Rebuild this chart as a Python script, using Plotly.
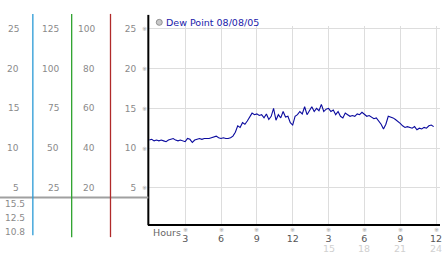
import plotly.graph_objects as go

W, H = 442, 253

# ---- data ----
hours = [round(i * 0.2, 1) for i in range(120)]
dew_point = [
    11.0, 11.1, 10.9, 11.0, 10.9, 11.0, 10.9, 10.8, 11.0, 11.1,
    11.2, 11.0, 10.9, 11.0, 10.9, 10.8, 11.2, 11.1, 10.7, 11.0,
    11.1, 11.2, 11.1, 11.2, 11.2, 11.2, 11.3, 11.4, 11.5, 11.3,
    11.2, 11.3, 11.2, 11.2, 11.3, 11.5, 12.0, 12.8, 12.6, 13.2,
    13.0, 13.4, 14.0, 14.4, 14.2, 14.3, 14.1, 14.2, 13.8, 14.3,
    13.6, 14.0, 15.0, 13.5, 14.2, 13.8, 14.6, 13.9, 14.0, 13.2,
    12.9, 14.0, 14.2, 14.6, 14.3, 15.2, 14.2, 14.8, 15.2, 14.6,
    15.0, 14.7, 15.5, 14.6, 14.9, 15.0, 14.6, 14.8, 14.2, 14.6,
    14.0, 13.8, 14.4, 14.2, 14.0, 14.1, 14.0, 14.3, 14.2, 14.5,
    14.3, 14.0, 14.1, 13.9, 13.7, 13.8, 13.4, 13.0, 12.4, 13.0,
    14.0, 13.9, 13.8, 13.6, 13.4, 13.1, 12.8, 12.6, 12.7, 12.6,
    12.5, 12.7, 12.3, 12.5, 12.4, 12.6, 12.5, 12.8, 12.9, 12.7,
]
x_ticks = [3, 6, 9, 12, 15, 18, 21, 24]
x_tick_text = ["3", "6", "9", "12", "3", "6", "9", "12"]
x_tick_text_24h = ["15", "18", "21", "24"]
y_ticks = [5, 10, 15, 20, 25]
scale1_labels = ["5", "10", "15", "20", "25"]
scale2_labels = ["25", "50", "75", "100", "125"]
scale3_labels = ["20", "40", "60", "80", "100"]
summary_labels = ["15.5", "12.5", "10.8"]
legend_label = "Dew Point 08/08/05"

# ---- geometry (pixels) ----
PX_L, PX_R = 149, 442
PY_T, PY_B = 24, 224
def px(x): return x / W
def py(y): return 1 - y / H

FONT = "DejaVu Sans"
LBL = "#8a8a8a"

fig = go.Figure()
fig.add_trace(go.Scatter(
    x=hours, y=dew_point, mode="lines",
    line=dict(color="#0a0a9e", width=1.1),
    showlegend=False, hoverinfo="skip",
))

fig.update_layout(
    width=W, height=H,
    margin=dict(l=0, r=0, t=0, b=0),
    paper_bgcolor="white", plot_bgcolor="white",
    showlegend=False,
    xaxis=dict(
        domain=[px(PX_L), px(PX_R)], range=[-0.083, 24.33],
        tickvals=x_ticks, ticktext=x_tick_text, ticks="",
        showgrid=True, gridcolor="#dddddd", gridwidth=1,
        zeroline=False, showline=True, linecolor="black", linewidth=2,
        tickfont=dict(family=FONT, size=9.5, color="#555555"),
        ticklabelstandoff=4, ticklabeloverflow="allow",
    ),
    yaxis=dict(
        domain=[py(PY_B), py(PY_T)], range=[0.4, 25.4],
        tickvals=y_ticks, ticktext=scale1_labels, ticks="",
        showgrid=True, gridcolor="#dddddd", gridwidth=1,
        zeroline=False, showline=False,
        tickfont=dict(family=FONT, size=9, color=LBL),
        ticklabelstandoff=11,
    ),
)

shapes = []
# main y axis line (extends above grid)
shapes.append(dict(type="line", xref="paper", yref="paper",
                   x0=px(149), x1=px(149), y0=py(13), y1=py(225),
                   line=dict(color="black", width=2)))
# gray horizontal separator on the left
shapes.append(dict(type="line", xref="paper", yref="paper",
                   x0=0, x1=px(149), y0=py(197), y1=py(197),
                   line=dict(color="#a0a0a0", width=2)))
# colored scale lines
for xl, col, yb in [(33, "#2a9ad6", 235), (72, "#2ea22e", 237), (111, "#b02a2a", 237)]:
    shapes.append(dict(type="line", xref="paper", yref="paper",
                       x0=px(xl), x1=px(xl), y0=py(12), y1=py(yb),
                       line=dict(color=col, width=1.3)))
# legend marker
shapes.append(dict(type="circle", xref="paper", yref="paper",
                   x0=px(157), x1=px(163), y0=py(23.5), y1=py(17.5),
                   fillcolor="#c8c8c8", line=dict(color="#909090", width=1)))
fig.update_layout(shapes=shapes)

ann = []
# additional left scales
for xr, labels in [(21, scale1_labels), (61, scale2_labels), (97, scale3_labels)]:
    for v, t in zip(y_ticks, labels):
        ann.append(dict(text=t, x=px(xr), xref="paper", y=v, yref="y",
                        xanchor="right", yanchor="middle", showarrow=False,
                        font=dict(family=FONT, size=9, color=LBL)))
# small tick glyphs at main y axis
for v in y_ticks:
    ann.append(dict(text="※", x=px(145), xref="paper", y=v, yref="y",
                    xanchor="center", yanchor="middle", showarrow=False,
                    font=dict(family=FONT, size=6, color="#a0a0a0")))
# small tick glyphs above x labels
for v in x_ticks:
    ann.append(dict(text="※", x=v, xref="x", y=py(229), yref="paper",
                    xanchor="center", yanchor="middle", showarrow=False,
                    font=dict(family=FONT, size=6, color="#a0a0a0")))
# 24h labels
for v, t in zip(x_ticks[4:], x_tick_text_24h):
    ann.append(dict(text=t, x=v, xref="x", y=py(248), yref="paper",
                    xanchor="center", yanchor="middle", showarrow=False,
                    font=dict(family=FONT, size=9.5, color="#d0d0d0")))
# Hours label
ann.append(dict(text="Hours", x=px(152), xref="paper", y=py(232), yref="paper",
                xanchor="left", yanchor="middle", showarrow=False,
                font=dict(family=FONT, size=9.5, color="#666666")))
# summary values
for yy, t in zip([204, 218, 232], summary_labels):
    ann.append(dict(text=t, x=px(27), xref="paper", y=py(yy), yref="paper",
                    xanchor="right", yanchor="middle", showarrow=False,
                    font=dict(family=FONT, size=9, color=LBL)))
# legend text
ann.append(dict(text=legend_label, x=px(165), xref="paper", y=py(20.5), yref="paper",
                xanchor="left", yanchor="middle", showarrow=False,
                font=dict(family=FONT, size=9.5, color="#1a1aaa")))
fig.update_layout(annotations=ann)

fig.write_html("out.html")
